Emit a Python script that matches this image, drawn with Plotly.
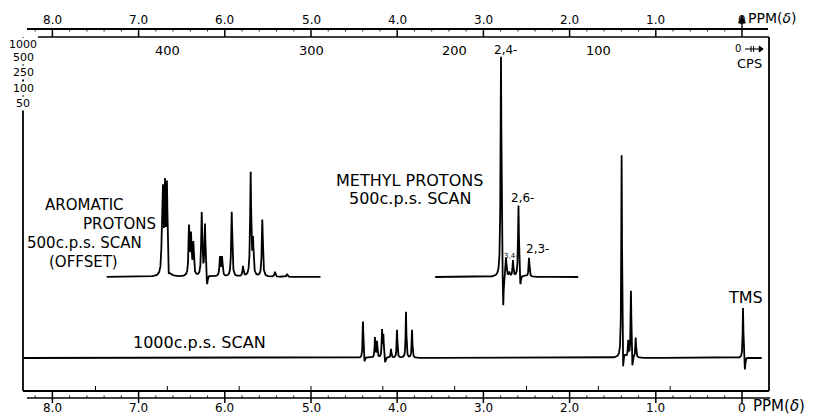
import numpy as np
import plotly.graph_objects as go

FONT = "DejaVu Sans"
INK = "black"

# ---- scales -------------------------------------------------------------
MHZ = 60.0                                   # c.p.s. per ppm
ppm_ticks = [8, 7, 6, 5, 4, 3, 2, 1, 0]
ppm_labels = ["8.0", "7.0", "6.0", "5.0", "4.0", "3.0", "2.0", "1.0", "0"]
cps_ticks = [400, 300, 200, 100]
cps_labels = ["400", "300", "200", "100"]
sweep_labels = ["1000", "500", "250", "100", "50"]

# ---- spectra: line positions (ppm) and intensities (negative = ringing) --
# 1000 c.p.s. scan, full range
main_ppm = [4.397, 4.380, 4.258, 4.234, 4.176, 4.160, 4.140, 4.072, 4.002,
            3.898, 3.828, 1.396, 1.380, 1.320, 1.288, 1.272, 1.233, -0.012, -0.034]
main_int = [37, -6, 20, 16, 27, 22, -6, 9, 28,
            46, 28, 206, -26, 16, 68, -14, 20, 51, -14]

# aromatic protons, 500 c.p.s. scan (offset)
aro_ppm = [6.728, 6.717, 6.694, 6.671, 6.650, 6.415, 6.392, 6.365, 6.268,
           6.230, 6.205, 6.056, 6.032, 5.920, 5.789, 5.700, 5.673, 5.565,
           5.418, 5.278]
aro_int = [40, 72, 84, 88, -8, 48, 39, 32, 63,
           52, -12, 19, 19, 65, 10, 103, 34, 57,
           5, 3]

# methyl protons, 500 c.p.s. scan
me_ppm = [2.796, 2.770, 2.738, 2.700, 2.657, 2.593, 2.570, 2.471]
me_int = [222, -40, 18, 4, 16, 72, -12, 19]

# ---- geometry of the chart (ppm across, chart units up) ----------------
W, H = 824, 414
ZERO_X, PX_PER_PPM = 742.0, 86.2
x_range = [ZERO_X / PX_PER_PPM, (ZERO_X - W) / PX_PER_PPM]

MAIN_BASE = 56
INSET_BASE = 137


def spectrum(start, stop, centers, heights, hw, base):
    x = np.arange(start, stop, -0.0008)
    y = np.full_like(x, float(base))
    for c, h in zip(centers, heights):
        y += h * hw ** 2 / ((x - c) ** 2 + hw ** 2)
    return x, y


fig = go.Figure()
for args in [
    (8.33, -0.23, main_ppm, main_int, 0.005, MAIN_BASE),
    (7.37, 4.89, aro_ppm, aro_int, 0.007, INSET_BASE),
    (3.56, 1.90, me_ppm, me_int, 0.006, INSET_BASE),
]:
    xs, ys = spectrum(*args)
    fig.add_trace(go.Scatter(x=xs, y=ys, mode="lines",
                             line=dict(color=INK, width=1.8),
                             hoverinfo="skip"))

# ---- frame and scales ---------------------------------------------------
LEFT, RIGHT = 8.341, -0.313
TOP_SCALE, BOX_TOP, BOX_BOT, BOT_SCALE = 385, 377, 23, 16


def seg(x0, y0, x1, y1, w=1.3):
    fig.add_shape(type="line", x0=x0, y0=y0, x1=x1, y1=y1, xref="x", yref="y",
                  line=dict(color=INK, width=w))


seg(8.295, TOP_SCALE, -0.302, TOP_SCALE, 1.8)
seg(8.167, BOX_TOP, RIGHT, BOX_TOP, 1.4)
seg(LEFT, BOX_BOT, RIGHT, BOX_BOT, 1.8)
seg(8.295, BOT_SCALE, -0.325, BOT_SCALE, 1.4)
seg(LEFT, BOX_BOT, LEFT, BOX_TOP, 1.8)
seg(RIGHT, BOX_BOT, RIGHT, BOX_TOP, 1.8)

for p in ppm_ticks:
    seg(p, BOX_TOP, p, TOP_SCALE, 1.5)
    seg(p, 11, p, BOX_BOT, 1.5)
for i in range(0, 42):
    p = i * 0.2
    if abs(p - round(p)) > 1e-6:
        seg(p, TOP_SCALE, p, TOP_SCALE - 2.5, 0.9)
        seg(p, BOT_SCALE, p, BOT_SCALE + 2.5, 0.9)
for i in range(1, 10):
    c = i * 50
    seg(c / MHZ, BOX_BOT, c / MHZ, BOX_BOT + 5, 1.0)

# arrow marking zero at the top scale
seg(0, TOP_SCALE, 0, 392, 1.4)
fig.add_shape(type="path", path="M 0.04,391 L 0,398 L -0.04,391 Z",
              xref="x", yref="y", fillcolor=INK, line=dict(color=INK, width=1))

# sweep-direction mark under the c.p.s. zero
seg(-0.035, 365, -0.215, 365, 1.1)
seg(-0.105, 362, -0.105, 368, 1.0)
seg(-0.135, 362, -0.135, 368, 1.0)
fig.add_shape(type="path", path="M -0.2,368 L -0.245,365 L -0.2,362 Z",
              xref="x", yref="y", fillcolor=INK, line=dict(color=INK, width=1))


def text(x, y, s, size, anchor="center"):
    fig.add_annotation(x=x, y=y, text=s, showarrow=False, xref="x", yref="y",
                       xanchor=anchor, yanchor="middle", borderpad=0,
                       font=dict(family=FONT, size=size, color=INK))


for p, lab in zip(ppm_ticks, ppm_labels):
    text(p, 394, lab, 12)
    text(p, 6, lab, 12)
for c, lab in zip(cps_ticks, cps_labels):
    text(c / MHZ, 364, lab, 13)

for lab, y in zip(sweep_labels, [370, 357, 342, 326, 311]):
    fig.add_annotation(x=LEFT, y=y, text=lab, showarrow=False, xref="x", yref="y",
                       bgcolor="white", borderpad=0,
                       font=dict(family=FONT, size=11, color=INK))

text(-0.06, 396, "PPM(<i>δ</i>)", 14, "left")
text(-0.116, 8, "PPM(<i>δ</i>)", 15, "left")
text(0.045, 366, "0", 10)
text(-0.09, 351, "CPS", 13)

text(7.622, 209, "AROMATIC", 15)
text(7.216, 190, "PROTONS", 15)
text(7.630, 171, "500c.p.s. SCAN", 15)
text(7.645, 152, "(OFFSET)", 15)

text(4.722, 234, "METHYL PROTONS", 16, "left")
text(4.571, 216, "500c.p.s. SCAN", 16, "left")

text(2.889, 364, "2,4-", 12, "left")
text(2.691, 216, "2,6-", 12, "left")
text(2.773, 158, "3,4-", 7, "left")
text(2.517, 165, "2,3-", 12, "left")

text(6.288, 72, "1000c.p.s. SCAN", 16)
text(-0.035, 117, "TMS", 16)

fig.update_layout(
    width=W, height=H, margin=dict(l=0, r=0, t=0, b=0),
    paper_bgcolor="white", plot_bgcolor="white", showlegend=False,
    xaxis=dict(range=x_range, visible=False, fixedrange=True),
    yaxis=dict(range=[0, H], visible=False, fixedrange=True),
)
fig.write_html("out.html")
